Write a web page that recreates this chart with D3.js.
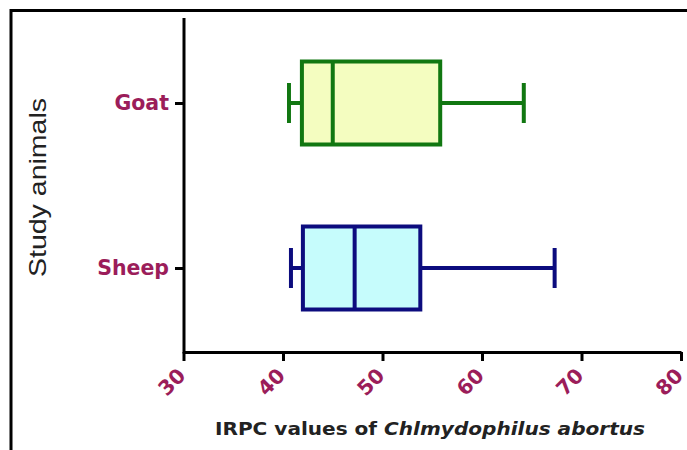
<!DOCTYPE html>
<html><head><meta charset="utf-8">
<script src="https://cdn.jsdelivr.net/npm/d3@7"></script>
<style>body{margin:0;background:#fff}svg{display:block}</style>
</head><body>
<svg id="c" width="687" height="450"></svg>
<script>
const categories = ["Goat", "Sheep"];
const minValues = [40.6, 40.8];
const q1Values = [41.9, 42.0];
const medianValues = [45.0, 47.2];
const q3Values = [55.8, 53.8];
const maxValues = [64.2, 67.3];
const xTicks = [30, 40, 50, 60, 70, 80];
const strokeColors = ["#117711", "#0c0c7e"];
const fillColors = ["#f4fdc0", "#c6fcfc"];
const labelColor = "#9b1d5a";

const svg = d3.select("#c");
// outer frame
svg.append("path").attr("d", "M11,450V10.5H687").attr("fill", "none")
  .attr("stroke", "#000").attr("stroke-width", 3);

const x = d3.scaleLinear().domain([30, 80]).range([183.5, 681]);
const y = d3.scalePoint().domain(categories).range([103, 268]);
const axisY = 352;

// boxes
const data = categories.map((c, i) => ({c, min: minValues[i], q1: q1Values[i], med: medianValues[i], q3: q3Values[i], max: maxValues[i], stroke: strokeColors[i], fill: fillColors[i]}));
const boxH = 83, capH = 40, sw = 4;
const g = svg.selectAll("g.box").data(data).join("g").attr("class", "box");
g.append("line").attr("x1", d => x(d.min)).attr("x2", d => x(d.q1)).attr("y1", d => y(d.c)).attr("y2", d => y(d.c)).attr("stroke", d => d.stroke).attr("stroke-width", sw);
g.append("line").attr("x1", d => x(d.q3)).attr("x2", d => x(d.max)).attr("y1", d => y(d.c)).attr("y2", d => y(d.c)).attr("stroke", d => d.stroke).attr("stroke-width", sw);
g.append("line").attr("x1", d => x(d.min)).attr("x2", d => x(d.min)).attr("y1", d => y(d.c) - capH / 2).attr("y2", d => y(d.c) + capH / 2).attr("stroke", d => d.stroke).attr("stroke-width", sw);
g.append("line").attr("x1", d => x(d.max)).attr("x2", d => x(d.max)).attr("y1", d => y(d.c) - capH / 2).attr("y2", d => y(d.c) + capH / 2).attr("stroke", d => d.stroke).attr("stroke-width", sw);
g.append("rect").attr("x", d => x(d.q1)).attr("width", d => x(d.q3) - x(d.q1)).attr("y", d => y(d.c) - boxH / 2).attr("height", boxH).attr("fill", d => d.fill).attr("stroke", d => d.stroke).attr("stroke-width", sw);
g.append("line").attr("x1", d => x(d.med)).attr("x2", d => x(d.med)).attr("y1", d => y(d.c) - boxH / 2).attr("y2", d => y(d.c) + boxH / 2).attr("stroke", d => d.stroke).attr("stroke-width", sw);

// x axis
const xAxis = svg.append("g").attr("transform", `translate(0,${axisY})`)
  .call(d3.axisBottom(x).tickValues(xTicks).tickSize(9).tickSizeOuter(0).tickFormat(d3.format("d")));
xAxis.select(".domain").attr("stroke", "#000").attr("stroke-width", 3);
xAxis.selectAll(".tick line").attr("stroke", "#000").attr("stroke-width", 3);
xAxis.selectAll(".tick text").attr("fill", labelColor)
  .attr("font-family", "DejaVu Sans").attr("font-weight", "bold").attr("font-size", 20.5)
  .attr("text-anchor", "end").attr("dy", null).attr("y", 0)
  .attr("transform", "translate(-2,20) rotate(-45)").attr("dominant-baseline", "central");

// y axis
const yAxis = svg.append("g").attr("transform", `translate(184,0)`)
  .call(d3.axisLeft(y).tickSize(9).tickSizeOuter(0).tickPadding(6));
yAxis.select(".domain").attr("d", `M0,18V${axisY + 1.5}`).attr("stroke", "#000").attr("stroke-width", 3);
yAxis.selectAll(".tick line").attr("stroke", "#000").attr("stroke-width", 3);
yAxis.selectAll(".tick text").attr("fill", labelColor)
  .attr("font-family", "DejaVu Sans").attr("font-weight", "bold").attr("font-size", 20.5);

// axis titles
const xt = svg.append("text").attr("x", 430).attr("y", 435).attr("text-anchor", "middle")
  .attr("font-family", "DejaVu Sans").attr("font-weight", "bold").attr("font-size", 18).attr("fill", "#222")
  .attr("textLength", 430).attr("lengthAdjust", "spacingAndGlyphs");
xt.append("tspan").text("IRPC values of ");
xt.append("tspan").attr("font-style", "italic").text("Chlmydophilus abortus");

svg.append("text").attr("transform", "translate(46,187.5) rotate(-90)").attr("text-anchor", "middle")
  .attr("font-family", "Liberation Sans").attr("font-size", 24).attr("fill", "#222")
  .attr("textLength", 179).attr("lengthAdjust", "spacingAndGlyphs").text("Study animals");
</script>
</body></html>
